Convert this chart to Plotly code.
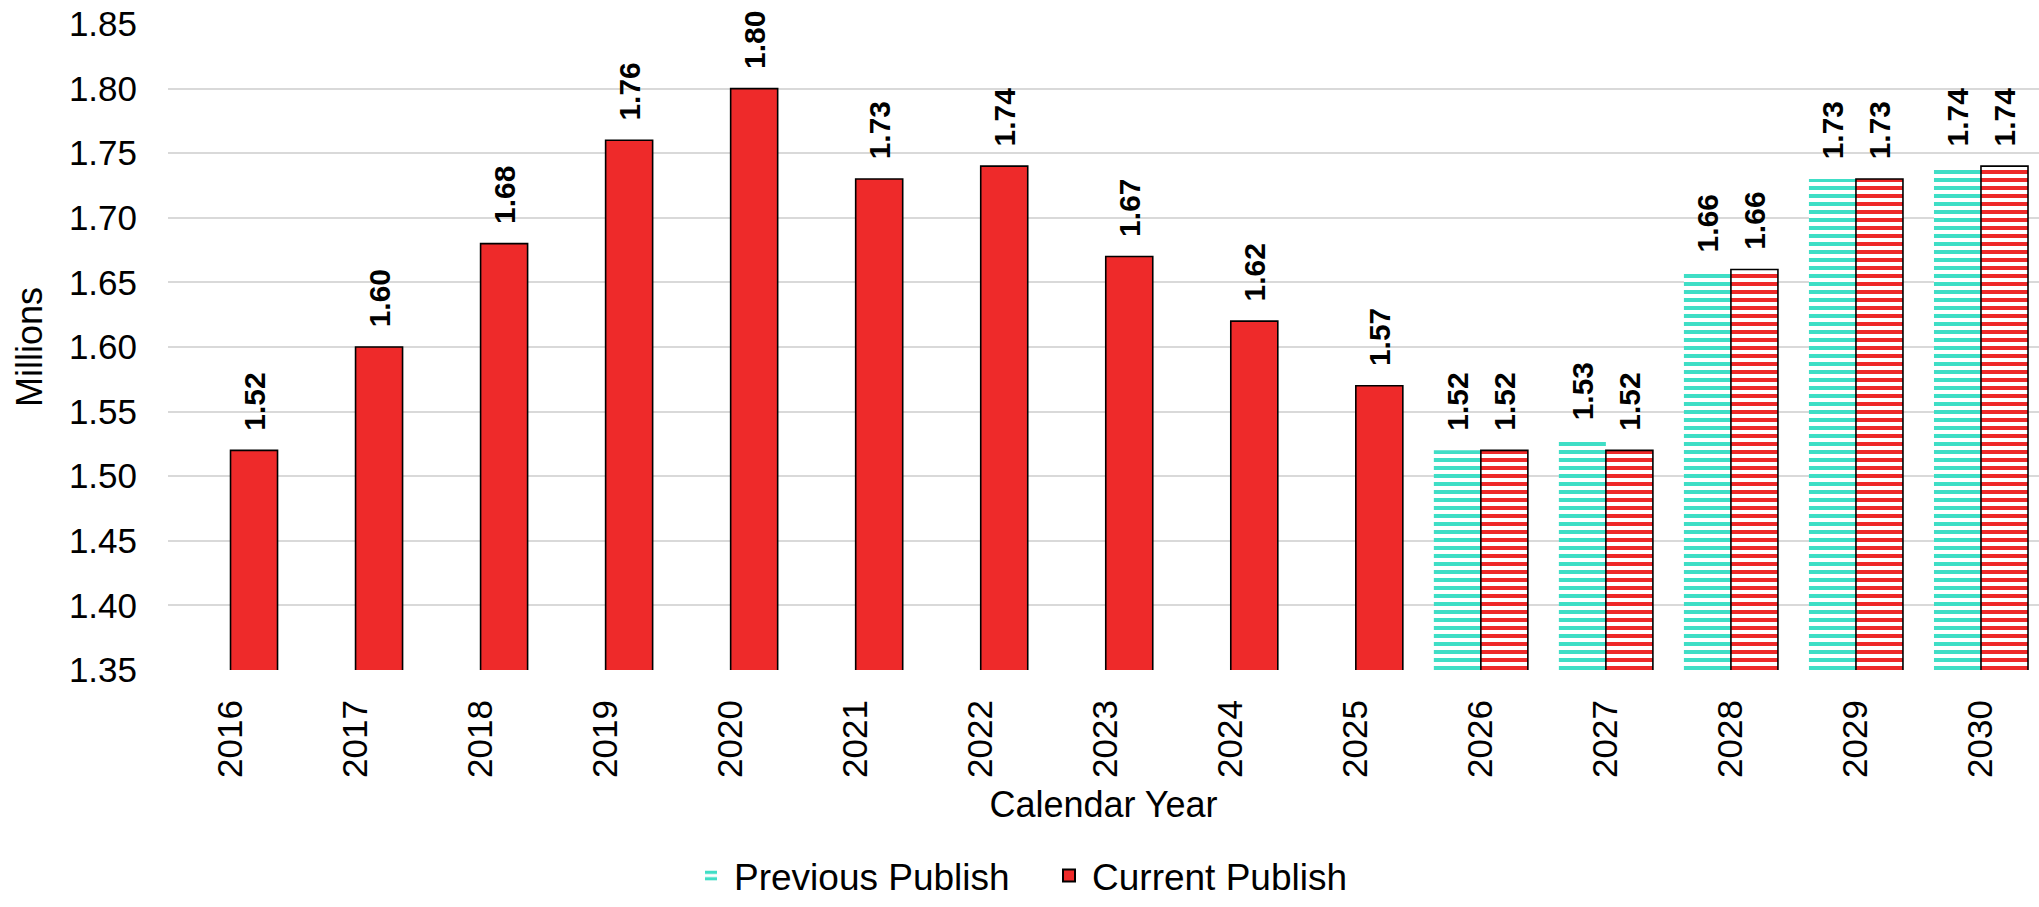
import plotly.graph_objects as go

years = [str(y) for y in range(2016, 2031)]
previous = [None]*10 + [1.52, 1.528, 1.658, 1.73, 1.74]
current = [1.52, 1.60, 1.68, 1.76, 1.80, 1.73, 1.74, 1.67, 1.62, 1.57,
           1.52, 1.52, 1.66, 1.73, 1.74]
forecast = [False]*10 + [True]*5

TEAL = "#40DEC6"
RED = "#EE2A2A"
FONT = "Liberation Sans, Arial, sans-serif"

cur_shape = ["-" if f else "" for f in forecast]

label_font = dict(size=30, color="black", family=FONT, weight=600)

fig = go.Figure()
fig.add_trace(go.Bar(
    name="Previous Publish", x=years, y=previous,
    marker=dict(color="white", line=dict(width=0),
                pattern=dict(shape="-", fgcolor=TEAL, bgcolor="white",
                             size=8, solidity=0.5, fillmode="replace")),
    texttemplate="\u00a0\u00a0%{y:.2f}", textposition="outside", textangle=-90,
    textfont=label_font, constraintext="none", cliponaxis=False,
))
fig.add_trace(go.Bar(
    name="Current Publish", x=years, y=current,
    marker=dict(color=RED, line=dict(width=1.6, color="black"),
                pattern=dict(shape=cur_shape, fgcolor=RED, bgcolor="white",
                             size=8, solidity=0.5, fillmode="replace")),
    texttemplate="\u00a0\u00a0%{y:.2f}", textposition="outside", textangle=-90,
    textfont=label_font, constraintext="none", cliponaxis=False,
))

fig.update_layout(
    width=2039, height=907,
    margin=dict(l=168, r=0, t=24, b=237, autoexpand=False),
    paper_bgcolor="white", plot_bgcolor="white",
    barmode="group", bargap=0.248, bargroupgap=0,
    font=dict(family=FONT, size=36, color="black"),
    showlegend=True,
    legend=dict(orientation="h", xref="container", yref="container",
                x=0.513, xanchor="center", y=0.0, yanchor="bottom",
                font=dict(size=37), itemsizing="constant", traceorder="normal",
                entrywidth=307, itemwidth=36),
    xaxis=dict(
        type="category", range=[-0.5, 14.464], tickangle=-90,
        tickfont=dict(size=35), ticks="", showgrid=False, automargin=False,
        showline=False, ticklabelstandoff=22,
        title=dict(text="Calendar Year", font=dict(size=36), standoff=14),
    ),
    yaxis=dict(
        range=[1.35, 1.85], dtick=0.05, tickformat=".2f", automargin=False,
        tickfont=dict(size=35), showgrid=True, gridcolor="#D9D9D9", gridwidth=2,
        zeroline=False, showline=False, ticks="", ticklabelstandoff=30,
        title=dict(text="Millions", font=dict(size=36), standoff=15),
    ),
)

fig.write_html(
    "out.html",
    config={"displayModeBar": False},
    post_script="document.body.style.margin='0';document.body.style.overflow='hidden';",
)
